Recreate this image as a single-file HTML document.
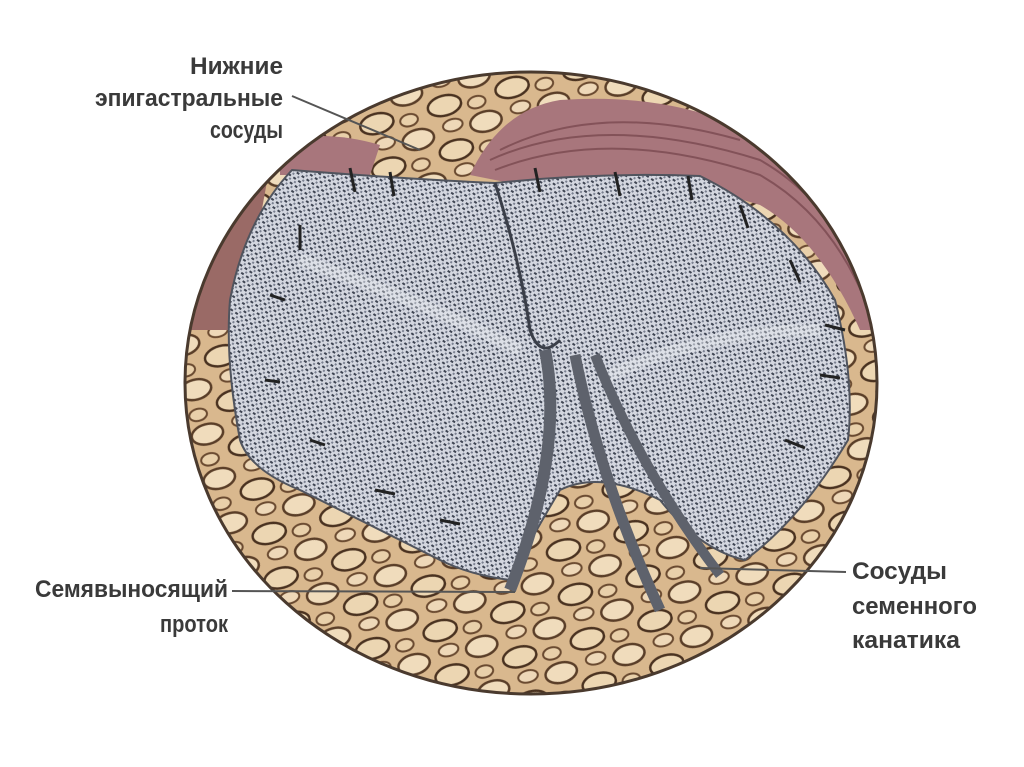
<!DOCTYPE html>
<html><head><meta charset="utf-8"><style>
html,body{margin:0;padding:0;background:#fff;width:1024px;height:767px;overflow:hidden}
text{font-family:"Liberation Sans",sans-serif;font-weight:bold;fill:#3a3a3a;font-size:24px}
</style></head><body>
<svg width="1024" height="767" viewBox="0 0 1024 767" xmlns="http://www.w3.org/2000/svg">
<defs>
<pattern id="mesh" width="6" height="6" patternUnits="userSpaceOnUse" patternTransform="rotate(35)">
<rect width="6" height="6" fill="#d4d7e0"/>
<rect x="0" y="0" width="3" height="2" fill="#3e4452"/>
<rect x="3" y="3" width="2" height="2" fill="#7a8090"/>
</pattern>
<pattern id="fat" width="70" height="46" patternUnits="userSpaceOnUse" patternTransform="rotate(-15)">
<rect width="70" height="46" fill="#d9b88e"/>
<ellipse cx="18" cy="13" rx="16" ry="10" fill="#f0dcbc" stroke="#5a3e28" stroke-width="2.5"/>
<ellipse cx="52" cy="33" rx="17" ry="10" fill="#ecd6b2" stroke="#4a3220" stroke-width="2.5"/>
<ellipse cx="55" cy="8" rx="10" ry="6" fill="#eed8b8" stroke="#6a4a30" stroke-width="2"/>
<ellipse cx="14" cy="38" rx="9" ry="6" fill="#e9d0aa" stroke="#6a4a30" stroke-width="2"/>
</pattern>
<clipPath id="circ"><ellipse cx="531" cy="383" rx="346" ry="311"/></clipPath>
</defs>
<ellipse cx="531" cy="383" rx="346" ry="311" fill="url(#fat)"/>
<g clip-path="url(#circ)">
<path d="M470 175 Q500 110 560 100 Q700 90 800 160 Q860 220 900 330 L860 330 Q820 240 760 205 Q650 170 520 185 Z" fill="#a8767c"/>
<g stroke="#7a4a50" stroke-width="2" fill="none" opacity="0.8">
<path d="M490 160 Q600 110 760 160 Q830 200 860 280"/>
<path d="M495 170 Q610 125 760 175 Q830 215 865 300"/>
<path d="M500 150 Q600 100 740 140"/>
</g>
<path d="M280 140 Q330 130 380 145 L370 175 L280 175 Z" fill="#a8767c"/>
<path d="M190 250 Q215 200 270 165 L240 330 L190 330 Z" fill="#9a6a66"/>
</g>
<path d="M292 170 Q420 180 495 183 Q600 172 700 176 Q790 220 835 300 Q855 380 848 440 Q800 520 745 560 Q700 550 660 500 Q600 470 560 490 Q530 540 510 580 Q470 575 440 560 Q360 520 300 490 Q250 470 240 440 Q225 360 230 300 Q245 220 292 170 Z" fill="url(#mesh)" stroke="#50545e" stroke-width="2"/>
<path d="M495 183 Q520 260 530 330 Q540 360 560 340" stroke="#3a3e48" stroke-width="3" fill="none"/>
<path d="M300 260 Q420 300 520 350 M600 380 Q700 330 820 330" stroke="#eef0f4" stroke-width="12" fill="none" opacity="0.35"/>
<g fill="none">
<path d="M545 350 Q565 450 510 590" stroke="#5e626c" stroke-width="12"/>
<path d="M575 355 Q600 480 660 610" stroke="#5e626c" stroke-width="11"/>
<path d="M595 355 Q640 470 720 575" stroke="#5e626c" stroke-width="10"/>
</g>
<g stroke="#222" stroke-width="3">
<line x1="350" y1="168" x2="355" y2="192"/><line x1="390" y1="172" x2="394" y2="196"/>
<line x1="535" y1="168" x2="540" y2="192"/><line x1="615" y1="172" x2="620" y2="196"/>
<line x1="688" y1="176" x2="692" y2="200"/><line x1="740" y1="205" x2="748" y2="228"/>
<line x1="790" y1="260" x2="800" y2="282"/><line x1="825" y1="325" x2="845" y2="330"/>
<line x1="820" y1="375" x2="840" y2="378"/><line x1="785" y1="440" x2="805" y2="448"/>
<line x1="300" y1="225" x2="300" y2="250"/><line x1="270" y1="295" x2="285" y2="300"/>
<line x1="265" y1="380" x2="280" y2="382"/><line x1="310" y1="440" x2="325" y2="445"/>
<line x1="375" y1="490" x2="395" y2="494"/><line x1="440" y1="520" x2="460" y2="524"/>
</g>
<ellipse cx="531" cy="383" rx="346" ry="311" fill="none" stroke="#4a3a2e" stroke-width="3"/>
<g stroke="#555" stroke-width="2">
<line x1="292" y1="96" x2="420" y2="150"/>
<line x1="232" y1="591" x2="515" y2="592"/>
<line x1="700" y1="568" x2="846" y2="572"/>
</g>
<text x="190" y="74" textLength="93" lengthAdjust="spacingAndGlyphs">Нижние</text>
<text x="95" y="106" textLength="188" lengthAdjust="spacingAndGlyphs">эпигастральные</text>
<text x="210" y="138" textLength="73" lengthAdjust="spacingAndGlyphs">сосуды</text>
<text x="35" y="597" textLength="193" lengthAdjust="spacingAndGlyphs">Семявыносящий</text>
<text x="160" y="632" textLength="68" lengthAdjust="spacingAndGlyphs">проток</text>
<text x="852" y="579" textLength="95" lengthAdjust="spacingAndGlyphs">Сосуды</text>
<text x="852" y="614" textLength="125" lengthAdjust="spacingAndGlyphs">семенного</text>
<text x="852" y="648" textLength="108" lengthAdjust="spacingAndGlyphs">канатика</text>
</svg>
</body></html>
